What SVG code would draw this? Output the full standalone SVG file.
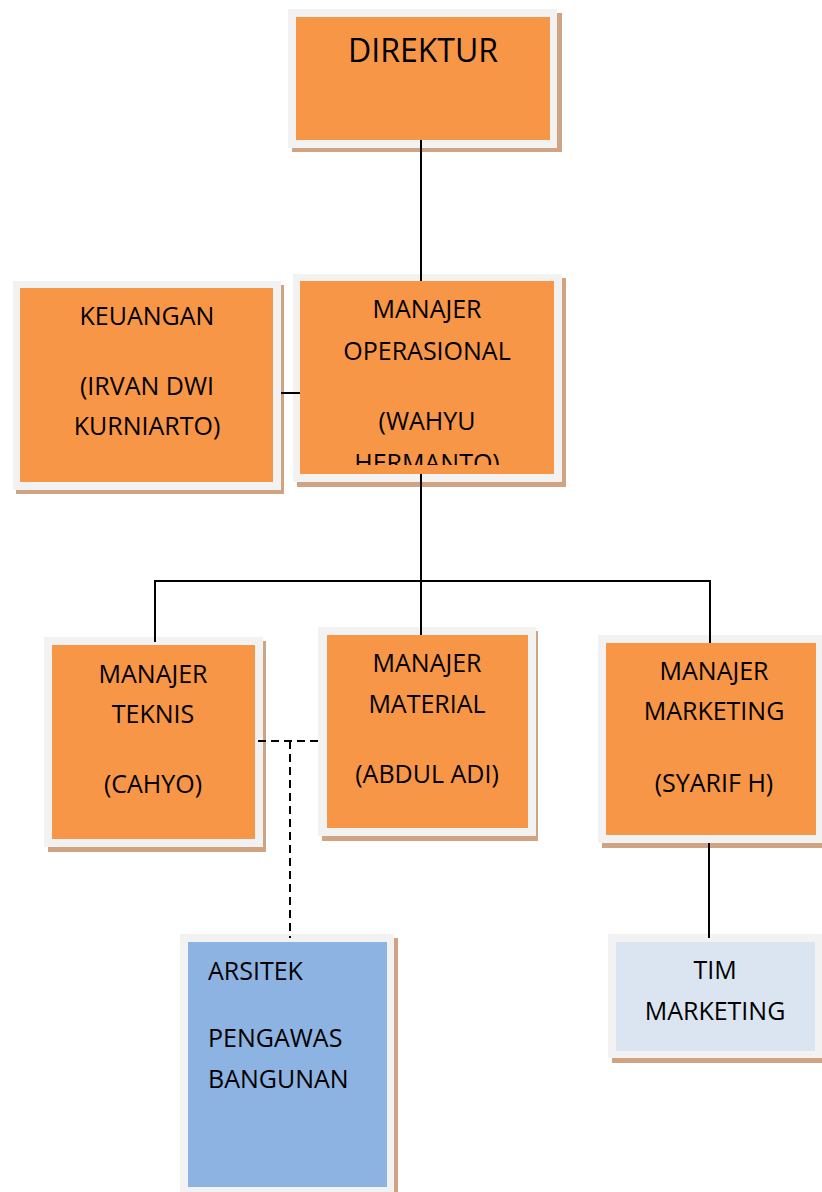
<svg xmlns="http://www.w3.org/2000/svg" width="822" height="1192" viewBox="0 0 822 1192">
<style>
.sh{fill:#d0a383}
.fr{fill:#f2f2f2}
.or{fill:#f79646}
.bl{fill:#8db3e2}
.lb{fill:#dbe5f1}
text{font-family:"Open Sans","Noto Sans","Liberation Sans",sans-serif;font-size:25px;fill:#000}
.c{text-anchor:middle}
.ln{stroke:#000;stroke-width:2;fill:none}
.dl{stroke:#000;stroke-width:2;fill:none;stroke-dasharray:8 5}
</style>
<defs>
<clipPath id="clipOp"><rect x="300" y="281" width="254" height="184"/></clipPath>
</defs>
<rect width="822" height="1192" fill="#fff"/>

<g id="direktur">
<rect class="sh" x="292" y="13" width="270" height="139"/>
<rect class="fr" x="288" y="9" width="269" height="139"/>
<rect class="or" x="296" y="17" width="254" height="123"/>
<text class="c" x="423" y="62" style="font-size:32px">DIREKTUR</text>
</g>

<g id="keuangan">
<rect class="sh" x="16" y="285" width="268" height="209"/>
<rect class="fr" x="13" y="281" width="268" height="209"/>
<rect class="or" x="20" y="288" width="253" height="194"/>
<text class="c" x="147" y="325">KEUANGAN</text>
<text class="c" x="147" y="395">(IRVAN DWI</text>
<text class="c" x="147" y="435">KURNIARTO)</text>
</g>

<g id="manajer-operasional">
<rect class="sh" x="297" y="278" width="269" height="209"/>
<rect class="fr" x="293" y="274" width="269" height="208"/>
<rect class="or" x="300" y="281" width="254" height="193"/>
<g clip-path="url(#clipOp)">
<text class="c" x="427" y="318">MANAJER</text>
<text class="c" x="427" y="360">OPERASIONAL</text>
<text class="c" x="427" y="430">(WAHYU</text>
<text class="c" x="427" y="472">HERMANTO)</text>
</g>
</g>

<g id="manajer-teknis">
<rect class="sh" x="48" y="641" width="218" height="211"/>
<rect class="fr" x="44" y="637" width="219" height="210"/>
<rect class="or" x="52" y="645" width="203" height="194"/>
<text class="c" x="153" y="683">MANAJER</text>
<text class="c" x="153" y="723">TEKNIS</text>
<text class="c" x="153" y="793">(CAHYO)</text>
</g>

<g id="manajer-material">
<rect class="sh" x="322" y="631" width="216" height="210"/>
<rect class="fr" x="318" y="627" width="218" height="209"/>
<rect class="or" x="327" y="635" width="201" height="193"/>
<text class="c" x="427" y="672">MANAJER</text>
<text class="c" x="427" y="713">MATERIAL</text>
<text class="c" x="427" y="783">(ABDUL ADI)</text>
</g>

<g id="manajer-marketing">
<rect class="sh" x="602" y="639" width="224" height="209"/>
<rect class="fr" x="598" y="635" width="228" height="208"/>
<rect class="or" x="606" y="643" width="210" height="192"/>
<text class="c" x="714" y="680">MANAJER</text>
<text class="c" x="714" y="720">MARKETING</text>
<text class="c" x="714" y="792">(SYARIF H)</text>
</g>

<g id="arsitek">
<rect class="sh" x="184" y="938" width="214" height="260"/>
<rect class="fr" x="180" y="934" width="214" height="260"/>
<rect class="bl" x="188" y="942" width="199" height="245"/>
<text x="208" y="980">ARSITEK</text>
<text x="208" y="1047">PENGAWAS</text>
<text x="208" y="1088">BANGUNAN</text>
</g>

<g id="tim-marketing">
<rect class="sh" x="612" y="938" width="214" height="125"/>
<rect class="fr" x="608" y="934" width="218" height="124"/>
<rect class="lb" x="616" y="942" width="199" height="109"/>
<text class="c" x="715" y="979">TIM</text>
<text class="c" x="715" y="1020">MARKETING</text>
</g>

<g id="connectors">
<line class="ln" x1="421" y1="140" x2="421" y2="281"/>
<line class="ln" x1="281" y1="393" x2="300" y2="393"/>
<line class="ln" x1="421" y1="474" x2="421" y2="635"/>
<polyline class="ln" points="155,642 155,581 710,581 710,643"/>
<line class="ln" x1="709" y1="843" x2="709" y2="938"/>
<line class="dl" x1="258" y1="741" x2="323" y2="741"/>
<line class="dl" x1="290" y1="741" x2="290" y2="938"/>
</g>
</svg>
